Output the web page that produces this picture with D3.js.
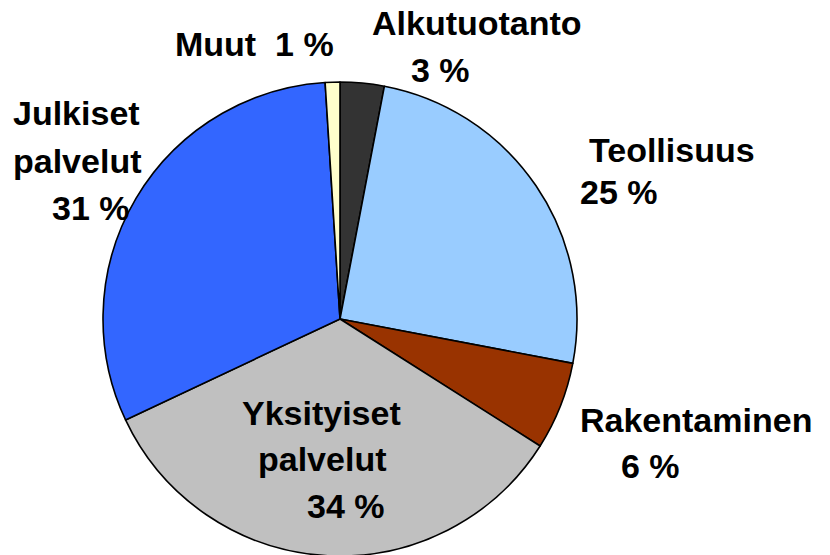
<!DOCTYPE html>
<html><head><meta charset="utf-8">
<script src="https://cdn.jsdelivr.net/npm/d3@7"></script>
<style>html,body{margin:0;padding:0;background:#fff}svg{display:block}</style>
</head><body>
<svg id="chart" width="830" height="555"></svg>
<script>
const categories = ["Alkutuotanto","Teollisuus","Rakentaminen","Yksityiset palvelut","Julkiset palvelut","Muut"];
const values = [3, 25, 6, 34, 31, 1];
const colors = ["#333333","#99ccff","#993300","#c0c0c0","#3366ff","#ffffcc"];
const labelLines = [
  ["Alkutuotanto","3 %"],
  ["Teollisuus","25 %"],
  ["Rakentaminen","6 %"],
  ["Yksityiset","palvelut","34 %"],
  ["Julkiset","palvelut","31 %"],
  ["Muut  1 %"]
];
// label layout (start x, baseline y) per line
const labelPos = [
  [[372,35],[411,82]],
  [[589,162],[580,204]],
  [[580,432],[621,478]],
  [[242,425],[258,471],[307,518]],
  [[13,125],[13,173],[52,220]],
  [[175,56]]
];

const svg = d3.select("#chart");
const cx = 340, cy = 319, r = 237;
const pie = d3.pie().sort(null).value(d => d)(values);
const arc = d3.arc().innerRadius(0).outerRadius(r);
const g = svg.append("g").attr("transform", `translate(${cx},${cy})`);
g.selectAll("path").data(pie).join("path")
  .attr("d", arc)
  .attr("fill", (d,i) => colors[i])
  .attr("stroke", "#000")
  .attr("stroke-width", 1.6)
  .attr("stroke-linejoin", "round");

const lg = svg.append("g")
  .attr("font-family", "'Liberation Sans', Arial, sans-serif")
  .attr("font-weight", "bold")
  .attr("font-size", 34)
  .attr("fill", "#000");
labelLines.forEach((lines, i) => {
  lines.forEach((t, j) => {
    lg.append("text")
      .attr("x", labelPos[i][j][0])
      .attr("y", labelPos[i][j][1])
      .attr("xml:space", "preserve")
      .style("white-space", "pre")
      .text(t);
  });
});
</script>
</body></html>
